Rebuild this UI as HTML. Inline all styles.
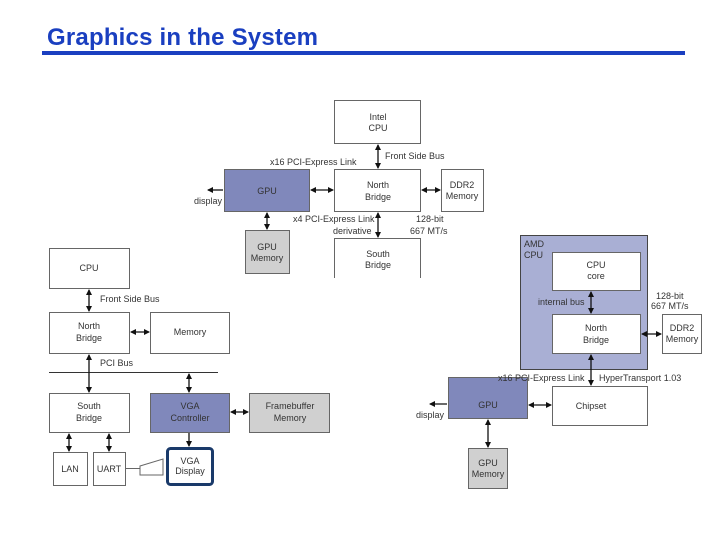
<!DOCTYPE html>
<html><head><meta charset="utf-8"><style>
body{margin:0;width:720px;height:540px;background:#fff;position:relative;overflow:hidden;font-family:"Liberation Sans",sans-serif}
.t{position:absolute;font-size:24px;font-weight:bold;color:#1a3fc0;left:47px;top:24px;letter-spacing:0.2px}
svg{position:absolute;left:0;top:0}
svg text{font-family:"Liberation Sans",sans-serif;font-size:9px;fill:#333}
</style></head><body>
<div class="t">Graphics in the System</div>
<svg width="720" height="540" viewBox="0 0 720 540">
<defs>
<marker id="a" markerWidth="6" markerHeight="6" refX="5" refY="3" orient="auto-start-reverse" markerUnits="userSpaceOnUse"><path d="M0,0 L6,3 L0,6 z" fill="#111"/></marker>
</defs>
<rect x="42" y="51" width="643" height="4" fill="#1a3fc0"/>
<g stroke="#666" stroke-width="1">
<!-- top diagram -->
<rect x="334.5" y="100.5" width="86" height="43" fill="#fff"/>
<rect x="334.5" y="169.5" width="86" height="42" fill="#fff"/>
<rect x="441.5" y="169.5" width="42" height="42" fill="#fff"/>
<rect x="224.5" y="169.5" width="85" height="42" fill="#8088bb"/>
<rect x="245.5" y="230.5" width="44" height="43" fill="#d0d0d0"/>
<path d="M334.5,278 V238.5 H420.5 V278" fill="none"/>
<!-- left diagram -->
<rect x="49.5" y="248.5" width="80" height="40" fill="#fff"/>
<rect x="49.5" y="312.5" width="80" height="41" fill="#fff"/>
<rect x="150.5" y="312.5" width="79" height="41" fill="#fff"/>
<rect x="49.5" y="393.5" width="80" height="39" fill="#fff"/>
<rect x="150.5" y="393.5" width="79" height="39" fill="#8088bb"/>
<rect x="249.5" y="393.5" width="80" height="39" fill="#d0d0d0"/>
<rect x="53.5" y="452.5" width="34" height="33" fill="#fff"/>
<rect x="93.5" y="452.5" width="32" height="33" fill="#fff"/>
<path d="M125,468.5 H140 M140,466 L163,459 V475 H140 Z" fill="none"/>
<!-- right diagram -->
<rect x="520.5" y="235.5" width="127" height="134" fill="#a9afd4" stroke="#444"/>
<rect x="552.5" y="252.5" width="88" height="38" fill="#fff"/>
<rect x="552.5" y="314.5" width="88" height="39" fill="#fff"/>
<rect x="662.5" y="314.5" width="39" height="39" fill="#fff"/>
<rect x="552.5" y="386.5" width="95" height="39" fill="#fff"/>
<rect x="448.5" y="377.5" width="79" height="41" fill="#8088bb"/>
<rect x="468.5" y="448.5" width="39" height="40" fill="#d0d0d0"/>
</g>
<rect x="167.5" y="448.5" width="45" height="36" rx="3" fill="#fff" stroke="#1a3a6a" stroke-width="3"/>
<line x1="49" y1="372.5" x2="218" y2="372.5" stroke="#333" stroke-width="1"/>
<g stroke="#111" stroke-width="1.3" fill="none">
<line x1="378" y1="145" x2="378" y2="168" marker-start="url(#a)" marker-end="url(#a)"/>
<line x1="311" y1="190" x2="333" y2="190" marker-start="url(#a)" marker-end="url(#a)"/>
<line x1="422" y1="190" x2="440" y2="190" marker-start="url(#a)" marker-end="url(#a)"/>
<line x1="267" y1="213" x2="267" y2="229" marker-start="url(#a)" marker-end="url(#a)"/>
<line x1="378" y1="213" x2="378" y2="237" marker-start="url(#a)" marker-end="url(#a)"/>
<line x1="223" y1="190" x2="208" y2="190" marker-end="url(#a)"/>
<line x1="89" y1="290" x2="89" y2="311" marker-start="url(#a)" marker-end="url(#a)"/>
<line x1="131" y1="332" x2="149" y2="332" marker-start="url(#a)" marker-end="url(#a)"/>
<line x1="89" y1="355" x2="89" y2="392" marker-start="url(#a)" marker-end="url(#a)"/>
<line x1="189" y1="374" x2="189" y2="392" marker-start="url(#a)" marker-end="url(#a)"/>
<line x1="231" y1="412" x2="248" y2="412" marker-start="url(#a)" marker-end="url(#a)"/>
<line x1="189" y1="433" x2="189" y2="446" marker-end="url(#a)"/>
<line x1="69" y1="434" x2="69" y2="451" marker-start="url(#a)" marker-end="url(#a)"/>
<line x1="109" y1="434" x2="109" y2="451" marker-start="url(#a)" marker-end="url(#a)"/>
<line x1="591" y1="292" x2="591" y2="313" marker-start="url(#a)" marker-end="url(#a)"/>
<line x1="642" y1="334" x2="661" y2="334" marker-start="url(#a)" marker-end="url(#a)"/>
<line x1="591" y1="355" x2="591" y2="385" marker-start="url(#a)" marker-end="url(#a)"/>
<line x1="529" y1="405" x2="551" y2="405" marker-start="url(#a)" marker-end="url(#a)"/>
<line x1="447" y1="404" x2="430" y2="404" marker-end="url(#a)"/>
<line x1="488" y1="420" x2="488" y2="447" marker-start="url(#a)" marker-end="url(#a)"/>
</g>
<g font-size="9">
<text x="378" y="120" text-anchor="middle">Intel</text><text x="378" y="131" text-anchor="middle">CPU</text>
<text x="378" y="188" text-anchor="middle">North</text><text x="378" y="200" text-anchor="middle">Bridge</text>
<text x="462" y="188" text-anchor="middle">DDR2</text><text x="462" y="199" text-anchor="middle">Memory</text>
<text x="267" y="194" text-anchor="middle">GPU</text>
<text x="267" y="250" text-anchor="middle">GPU</text><text x="267" y="261" text-anchor="middle">Memory</text>
<text x="378" y="257" text-anchor="middle">South</text><text x="378" y="268" text-anchor="middle">Bridge</text>
<text x="270" y="165" font-size="8">x16 PCI-Express Link</text>
<text x="385" y="159" font-size="8">Front Side Bus</text>
<text x="194" y="204" font-size="8">display</text>
<text x="293" y="222" font-size="8">x4 PCI-Express Link</text>
<text x="333" y="234" font-size="8">derivative</text>
<text x="416" y="222" font-size="8">128-bit</text>
<text x="410" y="234" font-size="8">667 MT/s</text>
<text x="89" y="271" text-anchor="middle">CPU</text>
<text x="100" y="302" font-size="8">Front Side Bus</text>
<text x="89" y="329" text-anchor="middle">North</text><text x="89" y="341" text-anchor="middle">Bridge</text>
<text x="190" y="335" text-anchor="middle">Memory</text>
<text x="100" y="366" font-size="8">PCI Bus</text>
<text x="89" y="409" text-anchor="middle">South</text><text x="89" y="421" text-anchor="middle">Bridge</text>
<text x="190" y="409" text-anchor="middle">VGA</text><text x="190" y="421" text-anchor="middle">Controller</text>
<text x="290" y="409" text-anchor="middle">Framebuffer</text><text x="290" y="421" text-anchor="middle">Memory</text>
<text x="70" y="472" text-anchor="middle" font-size="8">LAN</text>
<text x="109" y="472" text-anchor="middle" font-size="8">UART</text>
<text x="190" y="464" text-anchor="middle" font-size="8">VGA</text><text x="190" y="474" text-anchor="middle" font-size="8">Display</text>
<text x="524" y="247">AMD</text><text x="524" y="258">CPU</text>
<text x="596" y="268" text-anchor="middle">CPU</text><text x="596" y="279" text-anchor="middle" font-size="8">core</text>
<text x="538" y="305" font-size="8">internal bus</text>
<text x="596" y="331" text-anchor="middle">North</text><text x="596" y="343" text-anchor="middle">Bridge</text>
<text x="682" y="331" text-anchor="middle" font-size="8">DDR2</text><text x="682" y="342" text-anchor="middle" font-size="8">Memory</text>
<text x="656" y="299" font-size="8">128-bit</text><text x="651" y="309" font-size="8">667 MT/s</text>
<text x="498" y="381" font-size="8">x16 PCI-Express Link</text>
<text x="599" y="381" font-size="8">HyperTransport 1.03</text>
<text x="591" y="409" text-anchor="middle">Chipset</text>
<text x="488" y="408" text-anchor="middle">GPU</text>
<text x="416" y="418" font-size="8">display</text>
<text x="488" y="466" text-anchor="middle" font-size="8">GPU</text><text x="488" y="477" text-anchor="middle" font-size="8">Memory</text>
</g>
</svg>
</body></html>
